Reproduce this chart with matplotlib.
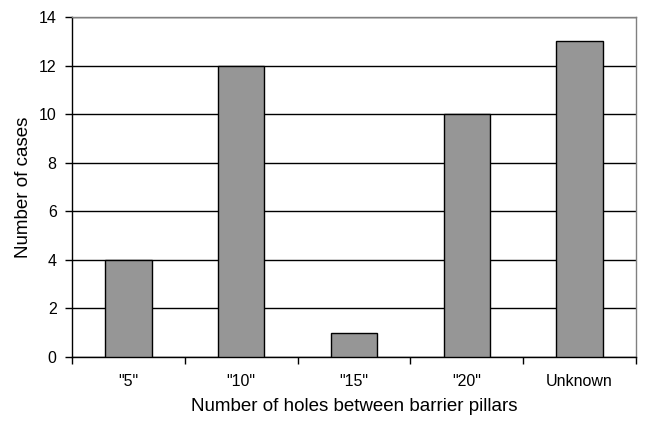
import numpy as np
import matplotlib
matplotlib.use("Agg")
import matplotlib.pyplot as plt

plt.rcParams['font.family'] = ['Liberation Sans', 'DejaVu Sans']

categories = ['"5"', '"10"', '"15"', '"20"', 'Unknown']
cases = [4, 12, 1, 10, 13]

fig = plt.figure(figsize=(6.46, 4.22), dpi=100)
ax = fig.add_axes([72/646, 1 - 357/422, (636-72)/646, (357-17)/422])

x = np.arange(len(categories))
ax.bar(x, cases, width=0.41, color="#969696", edgecolor="black", linewidth=1.0, zorder=3)

ax.set_xlim(-0.5, len(categories) - 0.5)
ax.set_ylim(0, 14)
ax.set_yticks(np.arange(0, 15, 2))
ax.yaxis.grid(True, color="black", linewidth=1.0, zorder=0)
ax.set_axisbelow(True)

ax.set_xticks(x)
ax.set_xticklabels(categories, fontsize=11.5)
ax.tick_params(axis="x", which="major", length=0, pad=12)
ax.set_xticks(np.arange(-0.5, len(categories)), minor=True)
ax.tick_params(axis="x", which="minor", length=5, width=1, direction="out")
ax.tick_params(axis="y", length=5, width=1, direction="out", labelsize=11.5, pad=6)

for s in ["top", "right"]:
    ax.spines[s].set_color("#808080")
for s in ["left", "bottom"]:
    ax.spines[s].set_color("black")
for s in ax.spines.values():
    s.set_linewidth(1.0)

ax.set_xlabel("Number of holes between barrier pillars", fontsize=13.5, labelpad=7)
ax.set_ylabel("Number of cases", fontsize=13.5, labelpad=5)

fig.savefig("out.png", dpi=100)
